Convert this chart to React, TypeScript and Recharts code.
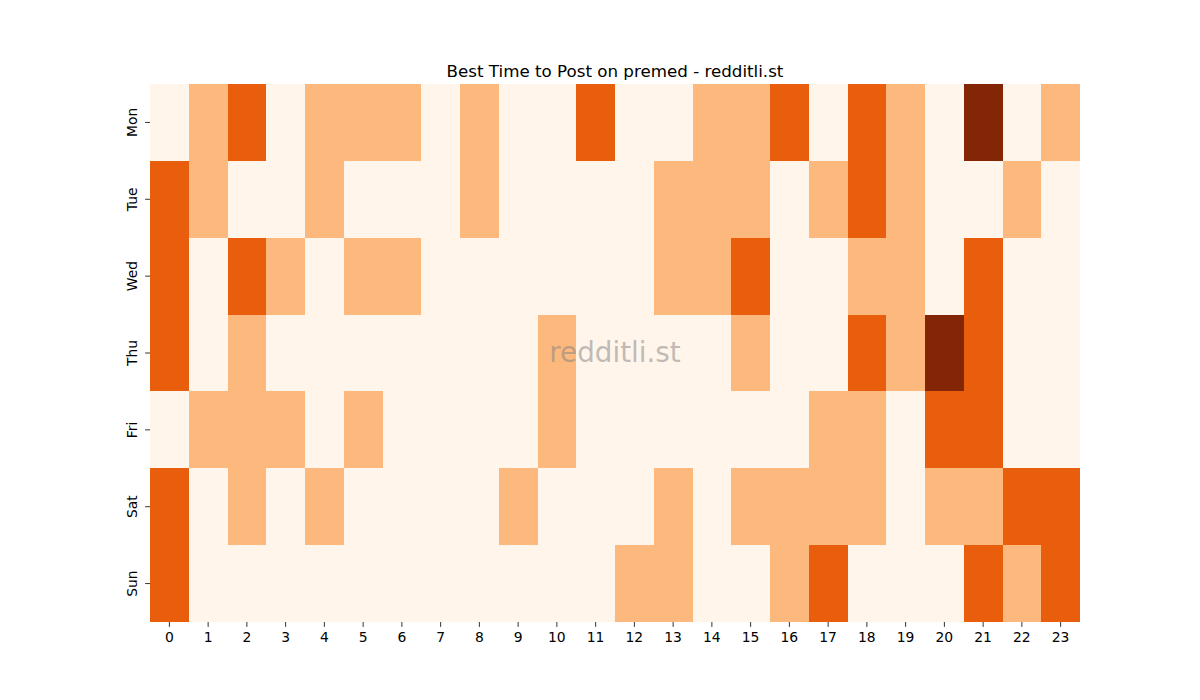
import React from 'react';
import { BarChart, Bar, XAxis, YAxis, Cell } from 'recharts';

const hours = ['0', '1', '2', '3', '4', '5', '6', '7', '8', '9', '10', '11', '12', '13', '14', '15', '16', '17', '18', '19', '20', '21', '22', '23'];
const days = ['Mon', 'Tue', 'Wed', 'Thu', 'Fri', 'Sat', 'Sun'];

// activity level per hour (0 = lowest .. 3 = highest)
const mon = [0, 1, 2, 0, 1, 1, 1, 0, 1, 0, 0, 2, 0, 0, 1, 1, 2, 0, 2, 1, 0, 3, 0, 1];
const tue = [2, 1, 0, 0, 1, 0, 0, 0, 1, 0, 0, 0, 0, 1, 1, 1, 0, 1, 2, 1, 0, 0, 1, 0];
const wed = [2, 0, 2, 1, 0, 1, 1, 0, 0, 0, 0, 0, 0, 1, 1, 2, 0, 0, 1, 1, 0, 2, 0, 0];
const thu = [2, 0, 1, 0, 0, 0, 0, 0, 0, 0, 1, 0, 0, 0, 0, 1, 0, 0, 2, 1, 3, 2, 0, 0];
const fri = [0, 1, 1, 1, 0, 1, 0, 0, 0, 0, 1, 0, 0, 0, 0, 0, 0, 1, 1, 0, 2, 2, 0, 0];
const sat = [2, 0, 1, 0, 1, 0, 0, 0, 0, 1, 0, 0, 0, 1, 0, 1, 1, 1, 1, 0, 1, 1, 2, 2];
const sun = [2, 0, 0, 0, 0, 0, 0, 0, 0, 0, 0, 0, 1, 1, 0, 0, 1, 2, 0, 0, 0, 2, 1, 2];

const levels = [mon, tue, wed, thu, fri, sat, sun];
const palette = ['#fff5eb', '#fdb97d', '#e95e0d', '#822605'];
const dayTicks = [0.5, 1.5, 2.5, 3.5, 4.5, 5.5, 6.5];

const data = hours.map((h) => {
  const row: Record<string, string | number> = { hour: h };
  days.forEach((d) => {
    row[d] = 1;
  });
  return row;
});

const FONT = 'DejaVu Sans, sans-serif';

const DayTick = (props: any) => {
  const { x, y, payload } = props;
  const idx = dayTicks.indexOf(payload.value);
  return (
    <text
      transform={`translate(${x},${y}) rotate(-90)`}
      textAnchor="middle"
      fontSize={13.9}
      fill="#000"
      fontFamily={FONT}
    >
      {days[idx]}
    </text>
  );
};

export default function App() {
  return (
    <div style={{ position: 'absolute', left: 0, top: 0, width: 1200, height: 700, background: '#fff' }}>
      <BarChart
        width={1200}
        height={700}
        data={data}
        barCategoryGap={0}
        barGap={0}
        margin={{ top: 84, right: 120, bottom: 38, left: 90 }}
        style={{ fontFamily: FONT }}
      >
        <XAxis
          dataKey="hour"
          axisLine={false}
          tickLine={{ stroke: '#000', strokeWidth: 0.8 }}
          tickSize={4.9}
          tickMargin={5}
          height={40}
          interval={0}
          tick={{ fill: '#000', fontSize: 13.9, fontFamily: FONT }}
        />
        <YAxis
          type="number"
          domain={[0, 7]}
          reversed
          ticks={dayTicks}
          axisLine={false}
          tickLine={{ stroke: '#000', strokeWidth: 0.8 }}
          tickSize={4.9}
          tickMargin={8}
          width={60}
          tick={<DayTick />}
          allowDataOverflow
        />
        {days.map((d, di) => (
          <Bar key={d} dataKey={d} stackId="h" isAnimationActive={false}>
            {hours.map((h, hi) => (
              <Cell key={h} fill={palette[levels[di][hi]]} shapeRendering="crispEdges" />
            ))}
          </Bar>
        ))}
        <text x={615} y={76.5} textAnchor="middle" fontSize={16.7} fill="#000" fontFamily={FONT}>
          Best Time to Post on premed - redditli.st
        </text>
      </BarChart>
      <svg
        width={1200}
        height={700}
        style={{ position: 'absolute', left: 0, top: 0, pointerEvents: 'none' }}
      >
        <text x={615} y={362} textAnchor="middle" fontSize={27.8} fill="#808080" fillOpacity={0.5} fontFamily={FONT}>
          redditli.st
        </text>
      </svg>
    </div>
  );
}
